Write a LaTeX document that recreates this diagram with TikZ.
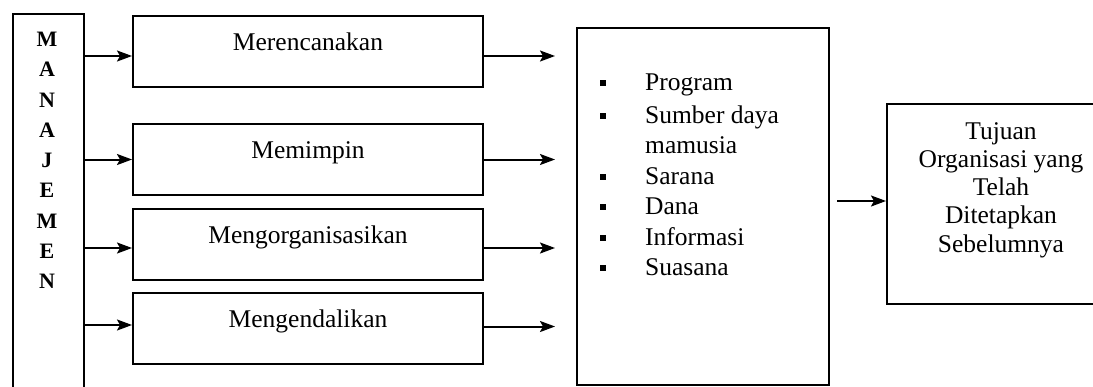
\documentclass[tikz,border=0pt]{standalone}
\usepackage{fontspec}
\setmainfont{Liberation Serif}
\usetikzlibrary{arrows.meta}
\newcommand{\itemdot}{\raisebox{4.5pt}{\rule{6pt}{6pt}}}
\begin{document}
\begin{tikzpicture}[x=1pt,y=-1pt,
  frame/.style={draw, line width=2pt, rectangle, inner sep=0pt, anchor=north west},
  stepbox/.style={frame, minimum width=350pt, minimum height=71pt,
    font=\fontsize{25.5}{30}\selectfont, text height=19pt, text depth=22pt},
  arr/.style={-{Stealth[length=15pt,width=11pt,inset=3pt]}, line width=2pt},
  bodytext/.style={inner sep=0pt, font=\fontsize{25.5}{30.5}\selectfont},
]
\useasboundingbox (0,0) rectangle (1093,386);
\clip (0,0) rectangle (1093,386);

% vertical MANAJEMEN column (open at the bottom)
\node[frame, minimum width=71pt, minimum height=390pt] (man) at (12,13) {};
\node[inner sep=0pt, anchor=north, align=center,
      font=\fontsize{22}{30.25}\selectfont\bfseries] (mantext) at (47,32)
  {M\\A\\N\\A\\J\\E\\M\\E\\N};

% management functions
\node[stepbox] (p1) at (132,15)  {Merencanakan};
\node[stepbox] (p2) at (132,123) {Memimpin};
\node[stepbox] (p3) at (132,208) {Mengorganisasikan};
\node[stepbox] (p4) at (132,292) {Mengendalikan};

% resources box
\node[frame, minimum width=252pt, minimum height=357pt] (res) at (576,27) {};
\node[bodytext, anchor=base west] (items) at (600,90)
  {\begin{tabular}[t]{@{}p{45pt}@{}l@{}}
   \itemdot & Program\\[2.5pt]
   \itemdot & Sumber daya\\
            & mamusia\\
   \itemdot & Sarana\\
   \itemdot & Dana\\
   \itemdot & Informasi\\
   \itemdot & Suasana
   \end{tabular}};

% goal box
\node[frame, minimum width=230pt, minimum height=200pt] (goal) at (886,103) {};
\node[inner sep=0pt, anchor=base, font=\fontsize{25.5}{28.3}\selectfont] (goaltext) at (1001,139)
  {\begin{tabular}[t]{@{}c@{}}
   Tujuan\\ Organisasi yang\\ Telah\\ Ditetapkan\\ Sebelumnya
   \end{tabular}};

% arrow anchor points on the function boxes
\coordinate (a1) at ([yshift=-4.5pt]p1.west);
\coordinate (a2) at (p2.west);
\coordinate (a3) at ([yshift=-3.5pt]p3.west);
\coordinate (a4) at ([yshift=3.5pt]p4.west);
\coordinate (b1) at ([yshift=-4.5pt]p1.east);
\coordinate (b2) at (p2.east);
\coordinate (b3) at ([yshift=-3.5pt]p3.east);
\coordinate (b4) at ([yshift=2pt]p4.east);
\coordinate (e1) at ([xshift=71pt]b1);
\coordinate (e2) at ([xshift=71pt]b2);
\coordinate (e3) at ([xshift=71pt]b3);
\coordinate (e4) at ([xshift=71pt]b4);
\coordinate (g1) at ([yshift=3pt]goal.west);

\foreach \i in {1,2,3,4} {
  \draw[arr] (man.east |- a\i) -- (a\i);
  \draw[arr] (b\i) -- (e\i);
}
\draw[arr, shorten <=7pt] (res.east |- g1) -- (g1);
\end{tikzpicture}
\end{document}
